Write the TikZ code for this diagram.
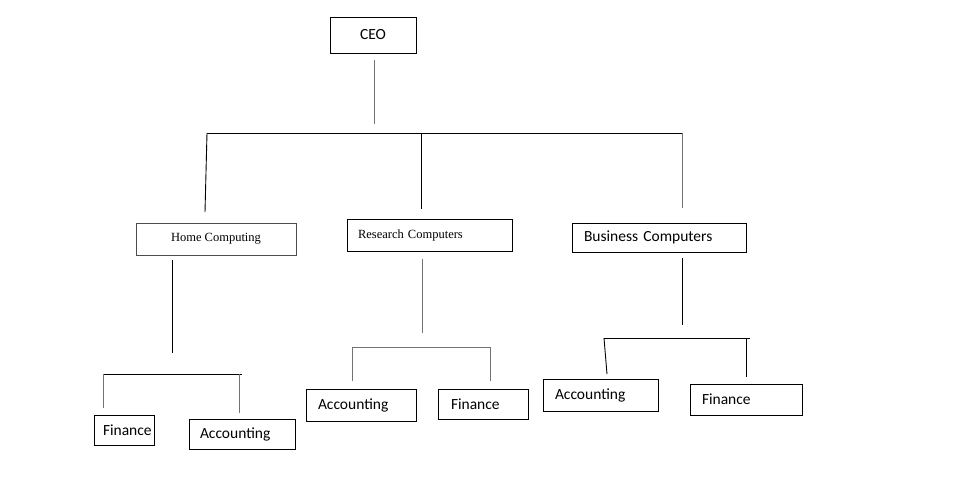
\documentclass[tikz,border=0pt]{standalone}
\usepackage{fontspec}
\setmainfont{Carlito}
\newfontfamily\serifface{Liberation Serif}
\begin{document}
\begin{tikzpicture}[x=1pt,y=-1pt,
  box/.style={draw=black, line width=0.9pt, inner xsep=0pt, inner ysep=0pt, anchor=center, align=left, font=\fontsize{15.5}{18}\selectfont},
  sbox/.style={box, font=\serifface\fontsize{12.5}{15}\selectfont},
  ln/.style={line width=0.9pt, black},
  lg/.style={line width=0.9pt, black!55}]
\useasboundingbox (0,0) rectangle (975,487);
% boxes
\node[box, minimum width=86pt, minimum height=36pt, align=center] (ceo) at (373,35) {CEO};
\node[sbox, draw=black!70, minimum width=160pt, minimum height=32pt, align=center] (home) at (216,239) {Home Computing};
\node[sbox, minimum width=165pt, minimum height=32pt, text width=143pt] (res) at (429.5,235) {Research Computers};
\node[box, minimum width=174pt, minimum height=29pt, text width=150pt] (bus) at (659,237.5) {Business Computers};
\node[box, minimum width=60pt, minimum height=30pt, text width=42pt] (hfin) at (124,430) {Finance};
\node[box, minimum width=106pt, minimum height=30pt, text width=84pt] (hacc) at (242,434) {Accounting};
\node[box, minimum width=110pt, minimum height=32pt, text width=86pt] (racc) at (361,405) {Accounting};
\node[box, minimum width=90pt, minimum height=30pt, text width=64pt] (rfin) at (483,404) {Finance};
\node[box, minimum width=115pt, minimum height=32pt, text width=91pt] (bacc) at (600.5,395) {Accounting};
\node[box, minimum width=112pt, minimum height=31pt, text width=88pt] (bfin) at (746,399.5) {Finance};
% coordinates
\coordinate (c1) at (374,60); \coordinate (c2) at (374,124);
\coordinate (tl) at (207,133); \coordinate (tm) at (421,133); \coordinate (tr) at (682,133);
\coordinate (hl) at (205,212); \coordinate (ml) at (421,209); \coordinate (rl) at (682,208);
\coordinate (h1) at (172,260); \coordinate (h2) at (172,353);
\coordinate (r1) at (422,259); \coordinate (r2) at (422,333);
\coordinate (b1) at (682,258); \coordinate (b2) at (682,325);
\coordinate (hbl) at (103,374); \coordinate (hbr) at (242,374);
\coordinate (hbld) at (103,408); \coordinate (hbrt) at (239,374); \coordinate (hbrd) at (239,413);
\coordinate (rbl) at (352,347); \coordinate (rbr) at (490,347);
\coordinate (rbld) at (352,381); \coordinate (rbrd) at (490,381);
\coordinate (bbl) at (604,338); \coordinate (bbr) at (750,338);
\coordinate (bbld) at (607,374); \coordinate (bbrt) at (746,338); \coordinate (bbrd) at (746,377);
% connectors
\draw[lg] (c1) -- (c2);
\draw[ln] (tl) -- (tr);
\draw[ln] (tl) -- (hl);
\draw[ln] (tm) -- (ml);
\draw[lg] (tr) -- (rl);
\draw[ln] (h1) -- (h2);
\draw[lg] (r1) -- (r2);
\draw[ln] (b1) -- (b2);
\draw[ln] (hbl) -- (hbr);
\draw[lg] (hbl) -- (hbld);
\draw[lg] (hbrt) -- (hbrd);
\draw[lg] (rbl) -- (rbr);
\draw[lg] (rbl) -- (rbld);
\draw[lg] (rbr) -- (rbrd);
\draw[ln] (bbl) -- (bbr);
\draw[ln] (bbl) -- (bbld);
\draw[ln] (bbrt) -- (bbrd);
\end{tikzpicture}
\end{document}
